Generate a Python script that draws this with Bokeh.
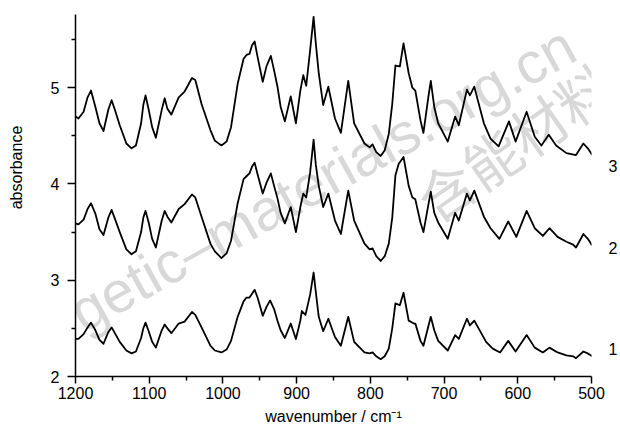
from bokeh.plotting import figure
from bokeh.models import Range1d, FixedTicker, Label, LinearAxis
from bokeh.embed import file_html
from bokeh.resources import INLINE

# ---------------- data ----------------
wn3 = [1200, 1196, 1189, 1183.6, 1179, 1173, 1167.5, 1162, 1155.5, 1151, 1146.6, 1140, 1131, 1124, 1118,
       1111, 1108, 1105, 1100.7, 1096, 1091, 1083, 1079, 1075.3, 1070, 1060, 1052, 1042, 1037.5, 1029,
       1017, 1011, 1002, 995, 989, 980, 972, 968, 964, 960.5, 957, 953, 946, 941, 935, 930.6, 926, 921.7,
       916, 908, 901, 895, 891, 887, 881.7, 877, 874, 870, 864, 857, 848, 840, 830, 822, 808, 801, 797,
       792, 786, 780.5, 775, 770.3, 766, 760, 755, 748, 743, 739, 732, 728, 721.4, 718, 713.3, 708, 695,
       685, 680, 669, 665, 659, 646, 637, 626, 612, 603, 588, 577, 568, 558, 548, 534, 521, 511, 505, 499]
ab3 = [4.70, 4.68, 4.75, 4.90, 4.97, 4.80, 4.63, 4.55, 4.77, 4.87, 4.77, 4.61, 4.42, 4.37, 4.40,
       4.63, 4.82, 4.92, 4.77, 4.59, 4.48, 4.77, 4.89, 4.78, 4.72, 4.90, 4.96, 5.10, 5.08, 4.83,
       4.56, 4.45, 4.40, 4.44, 4.59, 5.04, 5.30, 5.34, 5.35, 5.44, 5.48, 5.32, 5.06, 5.22, 5.33, 5.18, 5.01, 4.80,
       4.65, 4.91, 4.63, 4.97, 5.13, 5.02, 5.39, 5.735, 5.46, 5.15, 4.82, 5.01, 4.68, 4.53, 5.07, 4.63, 4.42, 4.38, 4.41,
       4.33, 4.29, 4.35, 4.52, 4.83, 5.23, 5.22, 5.46, 5.15, 5.00, 4.97, 4.66, 4.53, 4.90, 5.07, 4.80, 4.63, 4.44,
       4.70, 4.61, 4.98, 4.92, 5.01, 4.63, 4.47, 4.39, 4.65, 4.44, 4.75, 4.49, 4.40, 4.51, 4.40, 4.32, 4.30, 4.42, 4.37, 4.30]

wn2 = [1200, 1196, 1189, 1183.6, 1179, 1173, 1167.5, 1162, 1155.5, 1151, 1146.6, 1140, 1131, 1124, 1118,
       1111, 1108, 1105, 1100.7, 1096, 1091, 1083, 1079, 1075.3, 1070, 1060, 1052, 1042, 1037.5, 1029,
       1017, 1011, 1002, 995, 989, 980, 972, 968, 964, 960.5, 957, 953, 946, 941, 935, 930.6, 926, 921.7,
       916, 908, 901, 895, 891, 887, 881.7, 877, 874, 870, 864, 857, 848, 840, 830, 822, 808, 801, 797,
       792, 786, 780.5, 775, 770.3, 766, 761.5, 755, 748, 743, 739, 732, 728, 721.4, 718, 713.3, 708, 695,
       685, 680, 669, 665, 659, 646, 637, 625, 613, 602, 588, 577, 566, 557, 546, 534, 525, 521, 511, 505, 499]
ab2 = [3.59, 3.58, 3.63, 3.74, 3.80, 3.69, 3.53, 3.47, 3.65, 3.73, 3.64, 3.50, 3.32, 3.27, 3.30,
       3.50, 3.65, 3.72, 3.60, 3.43, 3.34, 3.62, 3.72, 3.66, 3.60, 3.74, 3.79, 3.89, 3.86, 3.66,
       3.38, 3.30, 3.23, 3.28, 3.41, 3.80, 4.05, 4.08, 4.11, 4.18, 4.22, 4.10, 3.90, 4.01, 4.11, 3.98, 3.85, 3.70,
       3.59, 3.76, 3.50, 3.76, 3.90, 3.86, 4.12, 4.46, 4.20, 3.98, 3.76, 3.90, 3.62, 3.48, 3.93, 3.62, 3.38, 3.32, 3.33,
       3.25, 3.20, 3.25, 3.38, 3.65, 4.09, 4.21, 4.28, 3.98, 3.86, 3.84, 3.60, 3.50, 3.78, 3.92, 3.70, 3.60, 3.43,
       3.70, 3.62, 3.90, 3.83, 3.93, 3.66, 3.54, 3.43, 3.61, 3.45, 3.72, 3.54, 3.46, 3.54, 3.45, 3.40, 3.37, 3.34, 3.48, 3.43, 3.36]

wn1 = [1200, 1196, 1189, 1183.6, 1179, 1173, 1167.5, 1162, 1155.5, 1151, 1146.6, 1140, 1131, 1124, 1118,
       1111, 1108, 1105, 1100.7, 1096, 1091, 1083, 1079, 1075.3, 1070, 1060, 1052, 1042, 1037.5, 1029,
       1017, 1011, 1002, 995, 989, 980, 972, 968, 964, 960.5, 957, 953, 946, 941, 936, 930.6, 926, 921.7,
       916, 908, 901, 895, 893, 888, 881.7, 877, 874, 870, 864, 857, 848, 840, 830, 822, 808, 801, 797,
       792, 786, 780.5, 775, 770.3, 766, 760, 755, 748, 741, 739, 732, 728, 721.4, 718, 713.3, 708, 695,
       685, 680, 669, 665, 659, 643, 634, 624, 613, 603, 588, 577, 566, 557, 546, 534, 525, 521, 511, 505, 499]
ab1 = [2.39, 2.39, 2.44, 2.51, 2.56, 2.48, 2.38, 2.34, 2.46, 2.51, 2.45, 2.36, 2.27, 2.24, 2.26,
       2.40, 2.50, 2.56, 2.47, 2.36, 2.30, 2.48, 2.54, 2.50, 2.45, 2.55, 2.57, 2.67, 2.64, 2.51,
       2.32, 2.27, 2.25, 2.28, 2.37, 2.62, 2.78, 2.82, 2.82, 2.86, 2.90, 2.82, 2.63, 2.72, 2.79, 2.70, 2.58, 2.48,
       2.40, 2.55, 2.39, 2.58, 2.68, 2.64, 2.85, 3.08, 2.88, 2.62, 2.47, 2.60, 2.41, 2.32, 2.62, 2.36, 2.25, 2.24, 2.25,
       2.21, 2.18, 2.21, 2.29, 2.50, 2.76, 2.74, 2.87, 2.58, 2.55, 2.55, 2.37, 2.32, 2.52, 2.62, 2.48, 2.37, 2.27,
       2.43, 2.39, 2.60, 2.53, 2.58, 2.36, 2.29, 2.25, 2.37, 2.26, 2.43, 2.30, 2.25, 2.30, 2.25, 2.22, 2.21, 2.19, 2.26, 2.24, 2.21]

series_names = ["1", "2", "3"]
series_label_y = [2.29, 3.33, 4.19]

x_major = [1200, 1100, 1000, 900, 800, 700, 600, 500]
x_minor = [1150, 1050, 950, 850, 750, 650, 550]
y_major = [2, 3, 4, 5]
y_minor = [2.5, 3.5, 4.5, 5.5]

# ---------------- figure ----------------
FONT = "Liberation Sans"
FS = "16px"

p = figure(width=620, height=427, output_backend="svg", toolbar_location=None,
           x_range=Range1d(1200, 500), y_range=Range1d(2, 5.76),
           min_border_left=75, min_border_right=20, min_border_top=14, min_border_bottom=51)
p.outline_line_color = None
p.grid.visible = False
p.background_fill_color = "white"
p.border_fill_color = "white"

for ax in (p.xaxis[0], p.yaxis[0]):
    ax.axis_line_color = "black"
    ax.axis_line_width = 1.5
    ax.major_tick_line_color = "black"
    ax.minor_tick_line_color = "black"
    ax.major_tick_line_width = 1.5
    ax.minor_tick_line_width = 1.5
    ax.major_tick_in = 0
    ax.minor_tick_in = 0
    ax.major_tick_out = 7
    ax.minor_tick_out = 4
    ax.major_label_text_font = FONT
    ax.major_label_text_font_size = FS
    ax.major_label_text_color = "black"
    ax.axis_label_text_font = FONT
    ax.axis_label_text_font_size = FS
    ax.axis_label_text_font_style = "normal"
    ax.axis_label_text_color = "black"

p.xaxis[0].ticker = FixedTicker(ticks=x_major, minor_ticks=x_minor)
p.yaxis[0].ticker = FixedTicker(ticks=y_major, minor_ticks=y_minor)
p.xaxis[0].major_label_standoff = 3
p.xaxis[0].axis_label = "wavenumber / cm\u207b\u00b9"
p.xaxis[0].axis_label_standoff = 6
p.yaxis[0].major_label_standoff = 8
p.yaxis[0].major_tick_out = 8

# y title on a bare outer axis; leading em/en spaces lift the centred title like the reference
title_axis = LinearAxis(ticker=FixedTicker(ticks=[], minor_ticks=[]),
                        axis_line_color=None, major_tick_line_color=None, minor_tick_line_color=None,
                        axis_label="\u2003\u2003\u2003\u2002absorbance", axis_label_standoff=23,
                        axis_label_text_font=FONT, axis_label_text_font_size=FS,
                        axis_label_text_font_style="normal", axis_label_text_color="black")
p.add_layout(title_axis, "left")

# series labels on a bare right axis
lab_axis = LinearAxis(ticker=FixedTicker(ticks=series_label_y, minor_ticks=[]),
                      major_label_overrides={v: n for v, n in zip(series_label_y, series_names)},
                      axis_line_color=None, major_tick_line_color=None, minor_tick_line_color=None,
                      major_label_standoff=11, major_label_text_font=FONT,
                      major_label_text_font_size=FS, major_label_text_color="black")
p.add_layout(lab_axis, "right")

# watermark (underlay)
wm_en = Label(x=528.7, y=5.49, text="energetic\u2013materials.org.cn", angle=0.506,
              text_align="right", text_baseline="alphabetic",
              text_font="Liberation Sans", text_font_size="58px", text_color="#d8d8d8",
              level="underlay")
wm_cn = Label(x=605, y=4.45, text="含能材料", angle=0.61,
              text_align="center", text_baseline="middle",
              text_font="Noto Sans CJK SC", text_font_size="56px", text_color="#d8d8d8",
              level="underlay")
p.add_layout(wm_en)
p.add_layout(wm_cn)

for wn, ab in ((wn1, ab1), (wn2, ab2), (wn3, ab3)):
    p.line(wn, ab, line_color="black", line_width=1.8, line_join="round")

open("out.html", "w").write(file_html(p, INLINE))
